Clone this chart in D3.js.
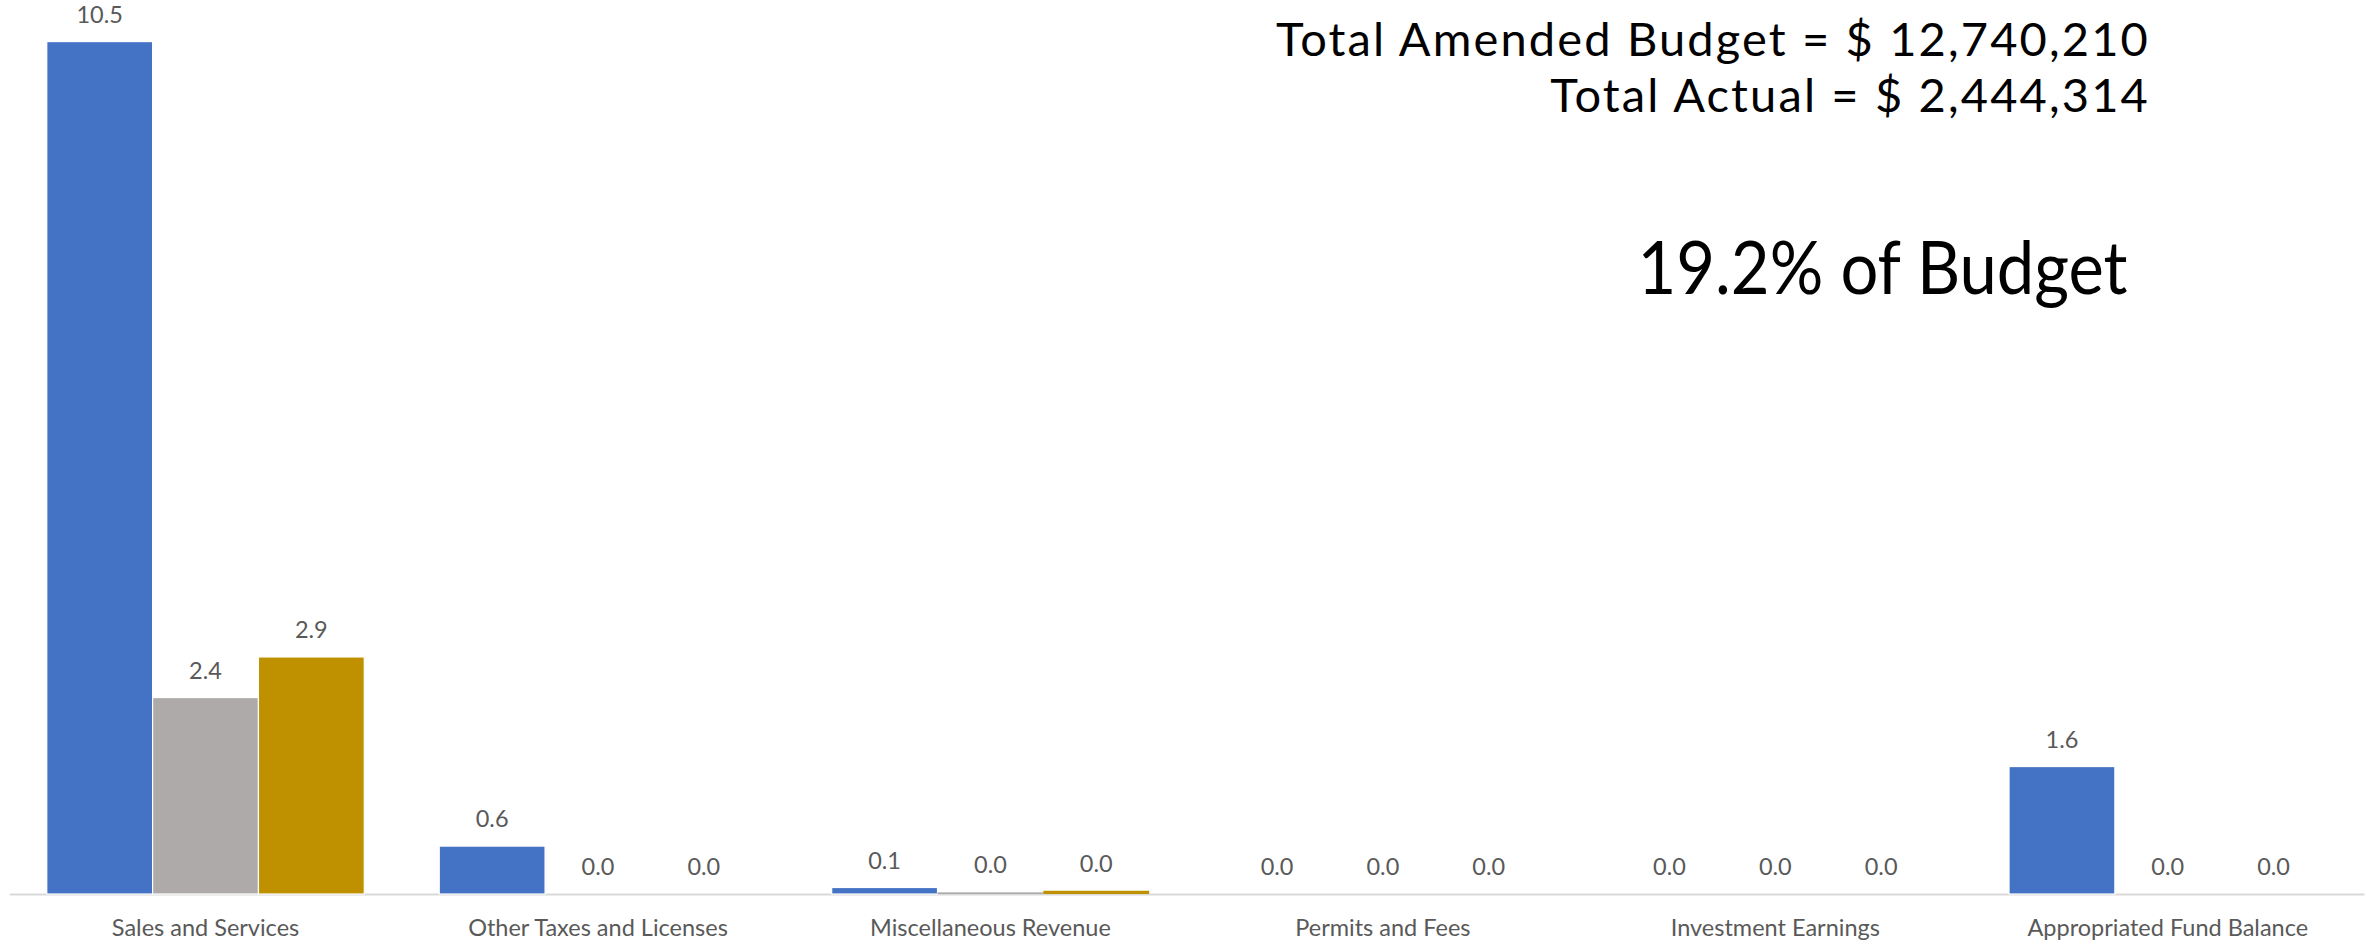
<!DOCTYPE html>
<html>
<head>
<meta charset="utf-8">
<script src="https://cdn.jsdelivr.net/npm/d3@7"></script>
<style>
  html, body { margin: 0; padding: 0; background: #ffffff; }
  svg { display: block; }
</style>
</head>
<body>
<svg id="chart" width="2374" height="947"></svg>
<script>
// ---- data (values in $ millions) ----
const categories = ["Sales and Services", "Other Taxes and Licenses", "Miscellaneous Revenue",
                    "Permits and Fees", "Investment Earnings", "Appropriated Fund Balance"];
const seriesNames = ["Amended Budget", "Actual", "Prior Year Actual"];
const amendedBudget = [10.5, 0.59, 0.08, 0.0, 0.0, 1.57];
const actual        = [2.42, 0.0, 0.02, 0.0, 0.0, 0.0];
const priorActual   = [2.92, 0.0, 0.04, 0.0, 0.0, 0.0];
const seriesColors  = ["#4472C4", "#AEAAAA", "#BF9000"];
const headerLines   = ["Total Amended Budget = $ 12,740,210", "Total Actual = $ 2,444,314"];
const percentText   = "19.2% of Budget";
const yMax = 11;

const series = [amendedBudget, actual, priorActual];

const svg = d3.select("#chart");
const baseY = 894;

const x0 = d3.scaleBand().domain(categories).range([9.3, 2364]).paddingInner(0.191).paddingOuter(0.0955);
const x1 = d3.scaleBand().domain(seriesNames).range([0, x0.bandwidth()]).padding(0);
const y = d3.scaleLinear().domain([0, yMax]).range([baseY, 1]);

const rows = categories.map((c, i) => ({
  cat: c,
  vals: seriesNames.map((s, j) => ({ s, v: series[j][i], color: seriesColors[j] }))
}));

// axis
const axisG = svg.append("g").attr("transform", `translate(0,${baseY})`)
  .call(d3.axisBottom(x0).tickSize(0).tickSizeOuter(0));
axisG.select(".domain").attr("stroke", "#D9D9D9").attr("stroke-width", 2);
axisG.selectAll(".tick text")
  .attr("y", 42).attr("dy", 0)
  .attr("fill", "#595959")
  .style("font-family", "Lato, 'Open Sans', sans-serif")
  .style("font-size", "23.5px");

// bars
const groups = svg.append("g").selectAll("g").data(rows).join("g")
  .attr("transform", d => `translate(${x0(d.cat)},0)`);

groups.selectAll("rect").data(d => d.vals).join("rect")
  .attr("x", d => x1(d.s))
  .attr("width", x1.bandwidth())
  .attr("y", d => y(d.v))
  .attr("height", d => baseY - y(d.v))
  .attr("fill", d => d.color)
  .attr("stroke", "#ffffff")
  .attr("stroke-width", d => d.v > 0.05 ? 1.2 : 0);

// value labels
const fmt = d3.format(".1f");
groups.selectAll("text.val").data(d => d.vals).join("text")
  .attr("class", "val")
  .attr("x", d => x1(d.s) + x1.bandwidth() / 2)
  .attr("y", d => y(d.v) - 19)
  .attr("text-anchor", "middle")
  .attr("fill", "#595959")
  .style("font-family", "Lato, 'Open Sans', sans-serif")
  .style("font-size", "23.5px")
  .text(d => fmt(d.v));

// header text
const hdr = svg.append("g");
const hdrBase = [55.7, 111.7];
headerLines.forEach((t, i) => {
  hdr.append("text")
    .attr("x", 2150).attr("y", hdrBase[i])
    .attr("text-anchor", "end")
    .attr("fill", "#000000")
    .style("font-family", "Lato, 'DejaVu Sans', sans-serif")
    .style("font-size", "47px")
    .text(t);
});
(function () {
  const nodes = hdr.selectAll("text").nodes();
  const target = 874;
  const len0 = nodes[0].getComputedTextLength();
  const ls = (target - len0) / (headerLines[0].length);
  nodes.forEach(n => n.style.letterSpacing = ls + "px");
})();

svg.append("text")
  .attr("x", 1637.5).attr("y", 293.6)
  .attr("text-anchor", "start")
  .attr("fill", "#000000")
  .attr("textLength", 490)
  .attr("lengthAdjust", "spacingAndGlyphs")
  .style("font-family", "Lato, 'Open Sans', sans-serif")
  .style("font-size", "74px")
  .text(percentText);
</script>
</body>
</html>
